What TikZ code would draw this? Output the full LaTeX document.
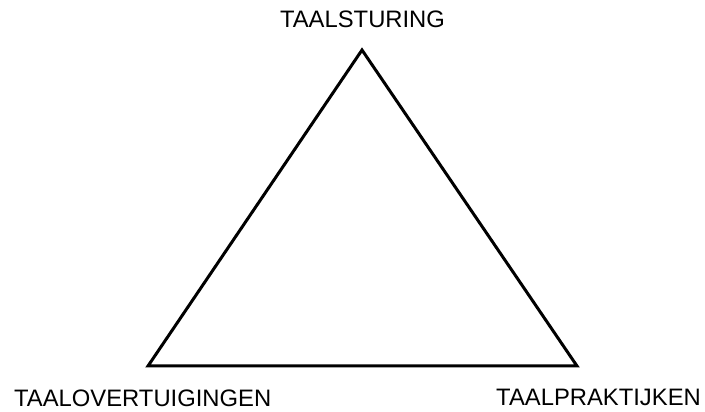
\documentclass[tikz,border=0pt]{standalone}
\usepackage{fontspec}
\setmainfont{Liberation Sans}
\begin{document}
\begin{tikzpicture}[x=1pt,y=1pt,
  lbl/.style={inner sep=0pt,font=\fontsize{23.8}{28}\selectfont},
  tri/.style={line width=3pt,line join=miter}]
\useasboundingbox (0,0) rectangle (705,412);
\coordinate (top) at (362,362);
\coordinate (bl) at (148,46);
\coordinate (br) at (577,46);
\draw[tri] (top) -- (bl) -- (br) -- cycle;
\node[lbl,anchor=base] (ts) at (362.5,384) {TAALSTURING};
\node[lbl,anchor=base west] (to) at (14,5) {TAALOVERTUIGINGEN};
\node[lbl,anchor=base east] (tp) at (701,6) {TAALPRAKTIJKEN};
\end{tikzpicture}
\end{document}
